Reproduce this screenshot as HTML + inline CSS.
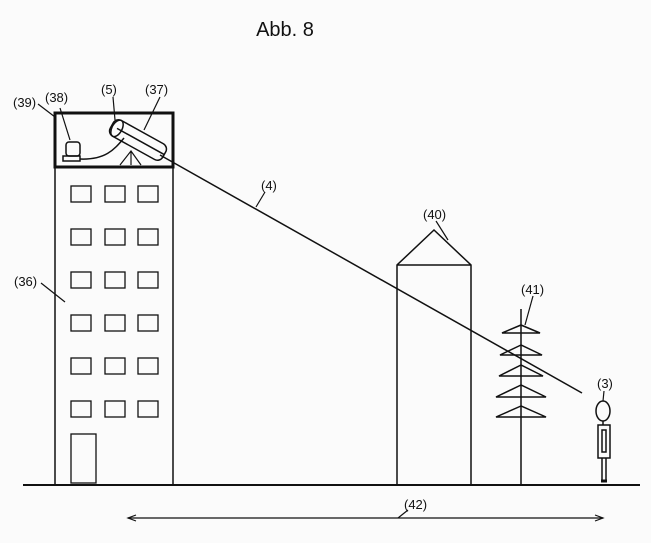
<!DOCTYPE html>
<html><head><style>body{margin:0;background:#fbfbfb}svg{display:block}</style></head><body>
<svg width="651" height="543" viewBox="0 0 651 543" xmlns="http://www.w3.org/2000/svg" font-family="Liberation Sans, sans-serif" fill="none" stroke="#111" stroke-width="1.5">
<text x="285" y="36" font-size="20" fill="#111" stroke="none" text-anchor="middle">Abb. 8</text>
<line x1="23" y1="485" x2="640" y2="485" stroke-width="2"/>
<line x1="55" y1="167" x2="55" y2="485"/>
<line x1="173" y1="167" x2="173" y2="485"/>
<rect x="55" y="113" width="118" height="54" stroke-width="3"/>
<g stroke-width="1.3">
<rect x="71" y="186" width="20" height="16"/><rect x="105" y="186" width="20" height="16"/><rect x="138" y="186" width="20" height="16"/>
<rect x="71" y="229" width="20" height="16"/><rect x="105" y="229" width="20" height="16"/><rect x="138" y="229" width="20" height="16"/>
<rect x="71" y="272" width="20" height="16"/><rect x="105" y="272" width="20" height="16"/><rect x="138" y="272" width="20" height="16"/>
<rect x="71" y="315" width="20" height="16"/><rect x="105" y="315" width="20" height="16"/><rect x="138" y="315" width="20" height="16"/>
<rect x="71" y="358" width="20" height="16"/><rect x="105" y="358" width="20" height="16"/><rect x="138" y="358" width="20" height="16"/>
<rect x="71" y="401" width="20" height="16"/><rect x="105" y="401" width="20" height="16"/><rect x="138" y="401" width="20" height="16"/>
<rect x="71" y="434" width="25" height="49"/>
</g>
<rect x="66" y="142" width="14" height="14" rx="3"/>
<rect x="63" y="156" width="17" height="5"/>
<path d="M80 159 C105 160 114 150 124 138"/>
<g transform="rotate(29 138 140)">
<rect x="108" y="131" width="60" height="18" rx="6"/>
<ellipse cx="114" cy="140" rx="5" ry="9"/>
<line x1="114" y1="140" x2="168" y2="140"/>
</g>
<path d="M120 165 L131 151 L141 165 M131 151 L131 165" stroke-width="1.2"/>
<line x1="160" y1="155" x2="582" y2="393"/>
<path d="M397 485 L397 265 L434 230 L471 265 L471 485 M397 265 L471 265"/>
<line x1="521" y1="309" x2="521" y2="485"/>
<path d="M521 325 L502 333 L540 333 Z M521 345 L500 355 L542 355 Z M521 365 L499 376 L543 376 Z M521 385 L496 397 L546 397 Z M521 406 L496 417 L546 417 Z"/>
<ellipse cx="603" cy="411" rx="7" ry="10"/>
<line x1="603" y1="421" x2="603" y2="425"/>
<rect x="598" y="425" width="12" height="33"/>
<rect x="602" y="430" width="4" height="22"/>
<line x1="602" y1="458" x2="602" y2="481"/><line x1="606" y1="458" x2="606" y2="481"/>
<line x1="601" y1="481" x2="607" y2="481" stroke-width="3"/>
<line x1="128" y1="518" x2="603" y2="518" stroke-width="1.2"/>
<path d="M136 515 L128 518 L136 521 M595 515 L603 518 L595 521" stroke-width="1.2"/>
<g stroke-width="1.2">
<line x1="60" y1="108" x2="70" y2="140"/>
<line x1="113" y1="97" x2="115" y2="120"/>
<line x1="160" y1="97" x2="144" y2="130"/>
<line x1="38" y1="104" x2="55" y2="117"/>
<line x1="265" y1="192" x2="256" y2="207"/>
<line x1="41" y1="283" x2="65" y2="302"/>
<line x1="436" y1="221" x2="448" y2="240"/>
<line x1="533" y1="296" x2="525" y2="325"/>
<line x1="604" y1="391" x2="603" y2="401"/>
<line x1="408" y1="510" x2="398" y2="518"/>
</g>
<g fill="#111" stroke="none" font-size="13">
<text x="45" y="102">(38)</text>
<text x="101" y="94">(5)</text>
<text x="145" y="94">(37)</text>
<text x="13" y="107">(39)</text>
<text x="261" y="190">(4)</text>
<text x="14" y="286">(36)</text>
<text x="423" y="219">(40)</text>
<text x="521" y="294">(41)</text>
<text x="597" y="388">(3)</text>
<text x="404" y="509">(42)</text>
</g>
</svg>
</body></html>
